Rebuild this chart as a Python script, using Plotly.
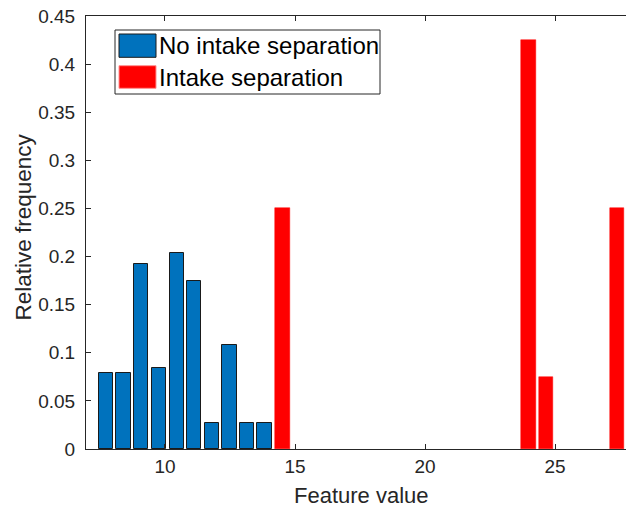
import plotly.graph_objects as go

# Histogram bin centres and relative frequencies
no_sep_centers = [7.72, 8.40, 9.09, 9.78, 10.45, 11.12, 11.80, 12.48, 13.16, 13.83]
no_sep_freq = [0.079, 0.079, 0.192, 0.084, 0.204, 0.175, 0.027, 0.108, 0.027, 0.027]

sep_centers = [14.52, 23.98, 24.66, 27.38]
sep_freq = [0.25, 0.425, 0.075, 0.25]

series_names = ["No intake separation", "Intake separation"]
x_ticks = [10, 15, 20, 25]
y_ticks = [0, 0.05, 0.1, 0.15, 0.2, 0.25, 0.3, 0.35, 0.4, 0.45]
y_tick_text = ["0", "0.05", "0.1", "0.15", "0.2", "0.25", "0.3", "0.35", "0.4", "0.45"]

BLUE = "#0072BD"
RED = "#FF0000"
AXIS = "#262626"
FONT = "Liberation Sans, Arial, sans-serif"

W, H = 626, 511
L, R, T, B = 86, 626, 16, 449


def px(x):
    return (x - L) / (R - L)


def py(y):
    return (B - y) / (B - T)


fig = go.Figure()
fig.add_trace(go.Bar(
    x=no_sep_centers, y=no_sep_freq, width=0.55, name=series_names[0],
    marker=dict(color=BLUE, line=dict(color="#1a1a1a", width=1)),
    showlegend=False,
))
fig.add_trace(go.Bar(
    x=sep_centers, y=sep_freq, width=0.55, name=series_names[1],
    marker=dict(color=RED, line=dict(color=RED, width=0.5)),
    showlegend=False,
))

shapes = []
annotations = []

# Legend box with wide colour swatches
shapes.append(dict(type="rect", xref="paper", yref="paper",
                   x0=px(115), x1=px(380), y0=py(94), y1=py(30),
                   line=dict(color=AXIS, width=1), fillcolor="white", layer="above"))
legend_rows = [(BLUE, "#1a1a1a", 34, 57.3, series_names[0]),
               (RED, "#ff9090", 65.7, 88.3, series_names[1])]
for fill, edge, y0, y1, label in legend_rows:
    shapes.append(dict(type="rect", xref="paper", yref="paper",
                       x0=px(119), x1=px(156), y0=py(y1), y1=py(y0),
                       line=dict(color=edge, width=1), fillcolor=fill, layer="above"))
    annotations.append(dict(text=label, xref="paper", yref="paper",
                            x=px(157), y=py((y0 + y1) / 2), xanchor="left", yanchor="middle",
                            showarrow=False, font=dict(family=FONT, size=24, color="black")))

# Axis titles
annotations.append(dict(text="Feature value", xref="paper", yref="paper",
                        x=px(361.5), y=py(510), xanchor="center", yanchor="bottom",
                        showarrow=False, font=dict(family=FONT, size=22, color=AXIS)))
annotations.append(dict(text="Relative frequency", xref="paper", yref="paper",
                        x=px(23), y=py(227.5), xanchor="center", yanchor="middle", textangle=-90,
                        showarrow=False, font=dict(family=FONT, size=22.5, color=AXIS)))

fig.update_layout(
    width=W, height=H,
    margin=dict(l=L, r=W - R, t=T, b=H - B, pad=0),
    paper_bgcolor="white", plot_bgcolor="white",
    bargap=0, barmode="overlay",
    shapes=shapes, annotations=annotations,
    font=dict(family=FONT, color=AXIS),
    xaxis=dict(range=[6.962, 27.73], tickvals=x_ticks, ticks="inside", ticklen=5,
               tickcolor=AXIS, showline=True, linecolor=AXIS, linewidth=1,
               mirror="ticks", showgrid=False, zeroline=False,
               tickfont=dict(family=FONT, size=19, color=AXIS)),
    yaxis=dict(range=[0, 0.45], tickvals=y_ticks, ticktext=y_tick_text,
               ticks="inside", ticklen=5, tickcolor=AXIS, showline=True,
               linecolor=AXIS, linewidth=1, showgrid=False, zeroline=False,
               ticklabelstandoff=6,
               tickfont=dict(family=FONT, size=19, color=AXIS)),
)

fig.write_html("out.html")
